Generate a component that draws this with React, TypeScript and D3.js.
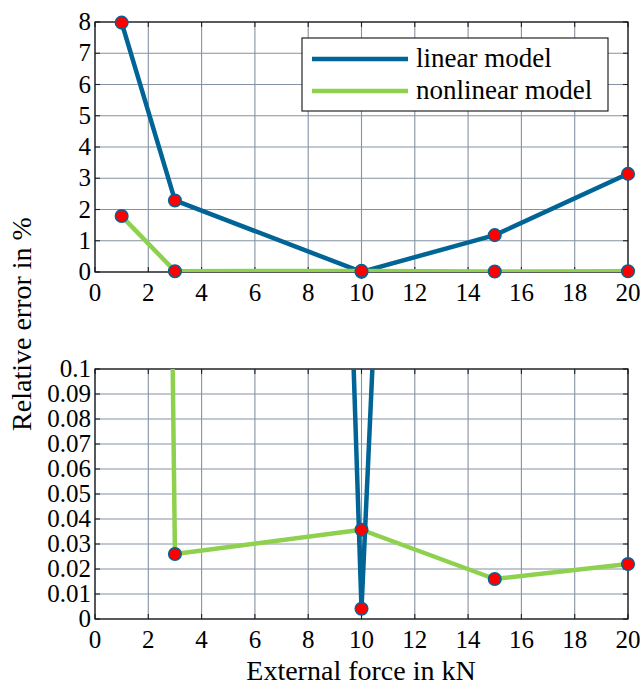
import { useEffect, useRef } from "react";
import * as d3 from "d3";

// force in kN
const forces = [1, 3, 10, 15, 20];
// relative error in %
const linearErr = [7.98, 2.29, 0.0041, 1.18, 3.14];
const nonlinearErr = [1.79, 0.026, 0.0357, 0.016, 0.022];

const xTicks = [0, 2, 4, 6, 8, 10, 12, 14, 16, 18, 20];
const yTicksTop = [0, 1, 2, 3, 4, 5, 6, 7, 8];
const yTicksBottom = [0, 0.01, 0.02, 0.03, 0.04, 0.05, 0.06, 0.07, 0.08, 0.09, 0.1];

const seriesNames = ["linear model", "nonlinear model"];
const seriesColors = ["#006596", "#8ed14f"];
const markerFill = "#ff0000";
const gridColor = "#8592a3";
const font = '"Liberation Serif", "DejaVu Serif", serif';

const W = 643;
const H = 686;

const App = () => {
  const ref = useRef<SVGSVGElement | null>(null);

  useEffect(() => {
    document.body.style.margin = "0";
    const svg = d3.select(ref.current);
    svg.selectAll("*").remove();

    const left = 95;
    const right = 628;
    const x = d3.scaleLinear().domain([0, 20]).range([left, right]);

    const panels = [
      { top: 22, bottom: 272, ymax: 8, ticks: yTicksTop, id: "top" },
      { top: 369, bottom: 619, ymax: 0.1, ticks: yTicksBottom, id: "bot" },
    ];

    const fmt = (v: number) => (v === 0 ? "0" : String(+v.toFixed(2)));

    panels.forEach((p) => {
      const y = d3.scaleLinear().domain([0, p.ymax]).range([p.bottom, p.top]);
      const g = svg.append("g");

      svg
        .append("clipPath")
        .attr("id", `clip-${p.id}`)
        .append("rect")
        .attr("x", left)
        .attr("y", p.top)
        .attr("width", right - left)
        .attr("height", p.bottom - p.top);

      // grid
      g.append("g")
        .selectAll("line")
        .data(xTicks)
        .join("line")
        .attr("x1", (d) => x(d))
        .attr("x2", (d) => x(d))
        .attr("y1", p.top)
        .attr("y2", p.bottom)
        .attr("stroke", gridColor)
        .attr("stroke-width", 1.1);
      g.append("g")
        .selectAll("line")
        .data(p.ticks)
        .join("line")
        .attr("x1", left)
        .attr("x2", right)
        .attr("y1", (d) => y(d))
        .attr("y2", (d) => y(d))
        .attr("stroke", gridColor)
        .attr("stroke-width", 1.1);

      // inner ticks
      const tk = 5;
      const ticksG = g.append("g").attr("stroke", "#222").attr("stroke-width", 1.1);
      xTicks.forEach((d) => {
        ticksG.append("line").attr("x1", x(d)).attr("x2", x(d)).attr("y1", p.bottom).attr("y2", p.bottom - tk);
        ticksG.append("line").attr("x1", x(d)).attr("x2", x(d)).attr("y1", p.top).attr("y2", p.top + tk);
      });
      p.ticks.forEach((d) => {
        ticksG.append("line").attr("x1", left).attr("x2", left + tk).attr("y1", y(d)).attr("y2", y(d));
        ticksG.append("line").attr("x1", right).attr("x2", right - tk).attr("y1", y(d)).attr("y2", y(d));
      });

      // frame
      g.append("rect")
        .attr("x", left)
        .attr("y", p.top)
        .attr("width", right - left)
        .attr("height", p.bottom - p.top)
        .attr("fill", "none")
        .attr("stroke", "#111")
        .attr("stroke-width", 1.2);

      // tick labels
      g.append("g")
        .selectAll("text")
        .data(xTicks)
        .join("text")
        .attr("x", (d) => x(d))
        .attr("y", p.bottom + 29)
        .attr("text-anchor", "middle")
        .style("font-family", font)
        .style("font-size", "25px")
        .text((d) => String(d));
      g.append("g")
        .selectAll("text")
        .data(p.ticks)
        .join("text")
        .attr("x", left - 4)
        .attr("y", (d) => y(d) + 8)
        .attr("text-anchor", "end")
        .style("font-family", font)
        .style("font-size", "25px")
        .text((d) => fmt(d));

      // lines + markers
      const line = d3
        .line<[number, number]>()
        .x((d) => x(d[0]))
        .y((d) => y(d[1]));
      [linearErr, nonlinearErr].forEach((vals, i) => {
        const pts: [number, number][] = forces.map((f, j) => [f, vals[j]]);
        g.append("path")
          .datum(pts)
          .attr("d", line)
          .attr("fill", "none")
          .attr("stroke", seriesColors[i])
          .attr("stroke-width", 4.5)
          .attr("stroke-linejoin", "round")
          .attr("clip-path", `url(#clip-${p.id})`);
        g.append("g")
          .selectAll("circle")
          .data(pts.filter((d) => d[1] <= p.ymax))
          .join("circle")
          .attr("cx", (d) => x(d[0]))
          .attr("cy", (d) => y(d[1]))
          .attr("r", 6.3)
          .attr("fill", markerFill)
          .attr("stroke", seriesColors[0])
          .attr("stroke-width", 1.5);
      });
    });

    // legend
    const lg = svg.append("g");
    lg.append("rect")
      .attr("x", 302)
      .attr("y", 38)
      .attr("width", 306)
      .attr("height", 73)
      .attr("fill", "#fff")
      .attr("stroke", "#111")
      .attr("stroke-width", 1.1);
    seriesNames.forEach((name, i) => {
      const ly = 59 + i * 32;
      lg.append("line")
        .attr("x1", 312)
        .attr("x2", 408)
        .attr("y1", ly)
        .attr("y2", ly)
        .attr("stroke", seriesColors[i])
        .attr("stroke-width", 4.5);
      lg.append("text")
        .attr("x", 416)
        .attr("y", ly + 8)
        .style("font-family", font)
        .style("font-size", "27px")
        .text(name);
    });

    // axis titles
    svg
      .append("text")
      .attr("transform", `translate(31,324) rotate(-90)`)
      .attr("text-anchor", "middle")
      .style("font-family", font)
      .style("font-size", "28px")
      .text("Relative error in %");
    svg
      .append("text")
      .attr("x", 361)
      .attr("y", 680)
      .attr("text-anchor", "middle")
      .style("font-family", font)
      .style("font-size", "28px")
      .text("External force in kN");
  }, []);

  return <svg ref={ref} width={W} height={H} style={{ display: "block", background: "#fff" }} />;
};

export default App;
